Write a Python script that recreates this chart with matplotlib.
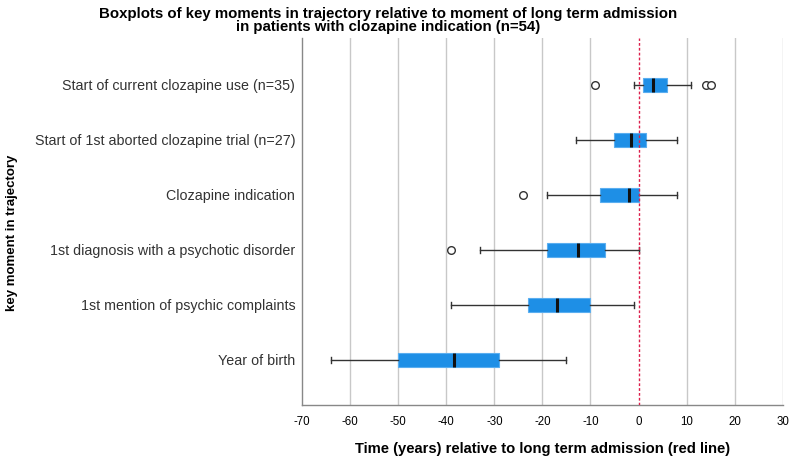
import matplotlib
matplotlib.use("Agg")
import matplotlib.pyplot as plt

plt.rcParams['font.family'] = ['Liberation Sans', 'DejaVu Sans']

categories = [
    "Year of birth",
    "1st mention of psychic complaints",
    "1st diagnosis with a psychotic disorder",
    "Clozapine indication",
    "Start of 1st aborted clozapine trial (n=27)",
    "Start of current clozapine use (n=35)",
]
whisker_low = [-64, -39, -33, -19, -13, -1]
q1 = [-50, -23, -19, -8, -5, 1]
median = [-38.5, -17, -12.5, -2, -1.5, 3]
q3 = [-29, -10, -7, 0, 1.5, 6]
whisker_high = [-15, -1, 0, 8, 8, 11]
outliers = [[], [], [-39], [-24], [], [-9, 14, 15]]

xticks = [-70, -60, -50, -40, -30, -20, -10, 0, 10, 20, 30]

fig = plt.figure(figsize=(7.93, 4.57), dpi=100)
ax = fig.add_axes([0.381, 0.1138, 0.606, 0.803])

stats = []
for i, name in enumerate(categories):
    stats.append(dict(label=name, whislo=whisker_low[i], q1=q1[i], med=median[i],
                      q3=q3[i], whishi=whisker_high[i], fliers=outliers[i]))

positions = list(range(1, len(categories) + 1))
ax.bxp(stats, positions=positions, vert=False, widths=0.25, patch_artist=True,
       boxprops=dict(facecolor='#1e8fe6', edgecolor='#5aaef0', linewidth=0.8),
       medianprops=dict(color='#111111', linewidth=2.2, solid_capstyle='butt'),
       whiskerprops=dict(color='#333333', linewidth=1.0),
       capprops=dict(color='#333333', linewidth=1.0),
       capwidths=0.1,
       flierprops=dict(marker='o', markerfacecolor='white', markeredgecolor='#333333',
                       markersize=5.5, markeredgewidth=1.0),
       zorder=3)

ax.set_xlim(-70, 30)
ax.set_ylim(0.18, 6.85)
ax.set_xticks(xticks)
ax.set_xticklabels([str(t) for t in xticks], fontsize=8.3)
ax.set_yticks(positions)
ax.set_yticklabels(categories, fontsize=10.3, color='#333333')
ax.tick_params(axis='y', length=0, pad=5)
ax.tick_params(axis='x', length=0, pad=8)

for t in xticks[1:]:
    if t != 0:
        ax.axvline(t, color='#c8c8c8', linewidth=1.0, zorder=0)
ax.axvline(0, color='#dc1f4c', linewidth=1.0, linestyle=(0, (2, 1.5)), zorder=4)

for s in ['top', 'right']:
    ax.spines[s].set_visible(False)
for s in ['left', 'bottom']:
    ax.spines[s].set_color('#888888')
    ax.spines[s].set_linewidth(1.0)

ax.set_xlabel("Time (years) relative to long term admission (red line)",
              fontsize=10.6, fontweight='bold', labelpad=10)
ax.set_ylabel("key moment in trajectory", fontsize=9.5, fontweight='bold', labelpad=8)
ax.yaxis.set_label_coords(-0.592, 0.468)

fig.text(0.489, 0.985, "Boxplots of key moments in trajectory relative to moment of long term admission\nin patients with clozapine indication (n=54)",
         ha='center', va='top', fontsize=10.8, fontweight='bold', linespacing=0.95)

fig.savefig("out.png", dpi=100)
